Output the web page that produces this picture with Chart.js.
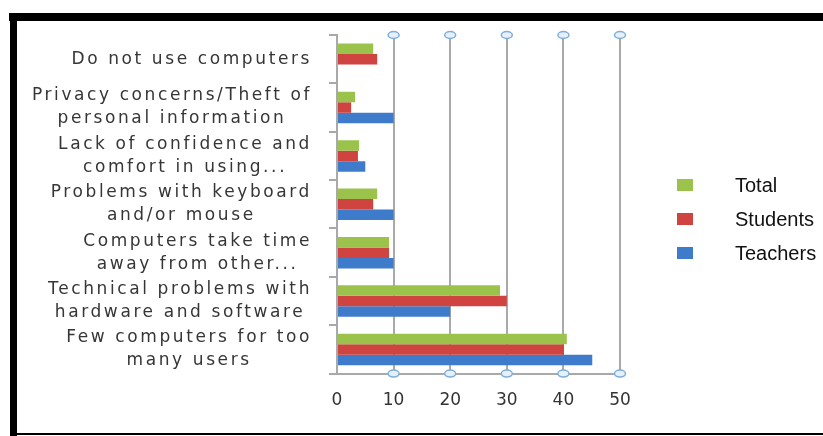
<!DOCTYPE html>
<html>
<head>
<meta charset="utf-8">
<script src="https://cdn.jsdelivr.net/npm/chart.js@4"></script>
<style>
  html, body { margin: 0; padding: 0; background: #fff; }
  #wrap { position: relative; width: 823px; height: 436px; overflow: hidden; }
  #chart { position: absolute; left: 0; top: 0; }
  .edge { position: absolute; background: #000; }
  #edgeTop { left: 9px; top: 13px; width: 814px; height: 8px; }
  #edgeLeft { left: 10px; top: 13px; width: 7px; height: 423px; }
  #edgeBottom { left: 10px; top: 433px; width: 813px; height: 2px; }
  #legend { position: absolute; left: 677px; top: 168px; margin: 0; padding: 0; list-style: none;
            font: 20px "Liberation Sans", sans-serif; color: #111; }
  #legend li { display: flex; align-items: center; height: 34px; }
  #legend .sw { display: inline-block; width: 16px; height: 12px; margin-right: 42px; }
</style>
</head>
<body>
<div id="wrap">
  <canvas id="chart" width="823" height="436"></canvas>
  <ul id="legend"></ul>
  <div class="edge" id="edgeTop"></div>
  <div class="edge" id="edgeLeft"></div>
  <div class="edge" id="edgeBottom"></div>
</div>
<script>
const categories = [
  "Do not use computers",
  ["Privacy concerns/Theft of", "personal information"],
  ["Lack of confidence and", "comfort in using..."],
  ["Problems with keyboard", "and/or mouse"],
  ["Computers take time", "away from other..."],
  ["Technical problems with", "hardware and software"],
  ["Few computers for too", "many users"],
];
const total    = [6.4, 3.2, 3.9, 7.1, 9.2, 28.8, 40.6];
const students = [7.1, 2.5, 3.7, 6.4, 9.2, 30.0, 40.1];
const teachers = [0, 10.0, 5.0, 10.0, 10.0, 20.0, 45.1];
const xTicks = [0, 10, 20, 30, 40, 50];

const GRID = "#a9a9a9";

// category labels: each block right-aligned, lines centred within the block
const catLabels = {
  id: "catLabels",
  afterDraw(chart) {
    const { ctx, scales: { y } } = chart;
    ctx.save();
    ctx.font = "17px 'DejaVu Sans'";
    ctx.letterSpacing = "2.6px";
    ctx.fillStyle = "#363636";
    ctx.textAlign = "center";
    ctx.textBaseline = "middle";
    categories.forEach((lab, i) => {
      const lines = Array.isArray(lab) ? lab : [lab];
      const w = Math.max(...lines.map(l => ctx.measureText(l).width));
      const cx = y.left - 17 - w / 2;
      const yc = y.getPixelForValue(i);
      lines.forEach((l, k) => ctx.fillText(l, cx, yc + (k - (lines.length - 1) / 2) * 23));
    });
    ctx.restore();
  },
};

// little rings capping each vertical gridline
const gridCaps = {
  id: "gridCaps",
  afterDraw(chart) {
    const { ctx, chartArea, scales: { x } } = chart;
    ctx.save();
    ctx.lineWidth = 1.5;
    ctx.strokeStyle = "#7eaedb";
    ctx.fillStyle = "#e6f0fa";
    xTicks.filter(v => v > 0).forEach(v => {
      const px = x.getPixelForValue(v);
      [chartArea.top, chartArea.bottom].forEach(py => {
        ctx.beginPath();
        ctx.ellipse(px, py, 5.5, 3.5, 0, 0, Math.PI * 2);
        ctx.fill();
        ctx.stroke();
      });
    });
    ctx.restore();
  },
};

const chart = new Chart(document.getElementById("chart"), {
  type: "bar",
  data: {
    labels: categories,
    datasets: [
      { label: "Total", data: total, backgroundColor: "#9bc34b" },
      { label: "Students", data: students, backgroundColor: "#cf4340" },
      { label: "Teachers", data: teachers, backgroundColor: "#3e7ccb" },
    ],
  },
  options: {
    indexAxis: "y",
    responsive: false,
    animation: false,
    datasets: { bar: { barPercentage: 1, categoryPercentage: 0.65 } },
    layout: { padding: { left: 329, top: 35, bottom: 8, right: 203 } },
    scales: {
      x: {
        min: 0, max: 50,
        afterBuildTicks: (s) => { s.ticks = xTicks.map(v => ({ value: v })); },
        ticks: { color: "#333", font: { family: "DejaVu Sans", size: 17 }, padding: 17 },
        grid: { color: GRID, lineWidth: 2, drawTicks: false },
        border: { color: GRID, width: 2 },
      },
      y: {
        ticks: { display: false },
        grid: { drawOnChartArea: false, drawTicks: true, tickLength: 8, color: GRID, lineWidth: 2 },
        border: { color: GRID, width: 2 },
      },
    },
    plugins: {
      tooltip: { enabled: false },
      legend: { display: false },
    },
  },
  plugins: [catLabels, gridCaps],
});

// legend list built from the datasets
document.getElementById("legend").innerHTML = chart.data.datasets.map(ds =>
  `<li><span class="sw" style="background:${ds.backgroundColor}"></span>${ds.label}</li>`).join("");
</script>
</body>
</html>
